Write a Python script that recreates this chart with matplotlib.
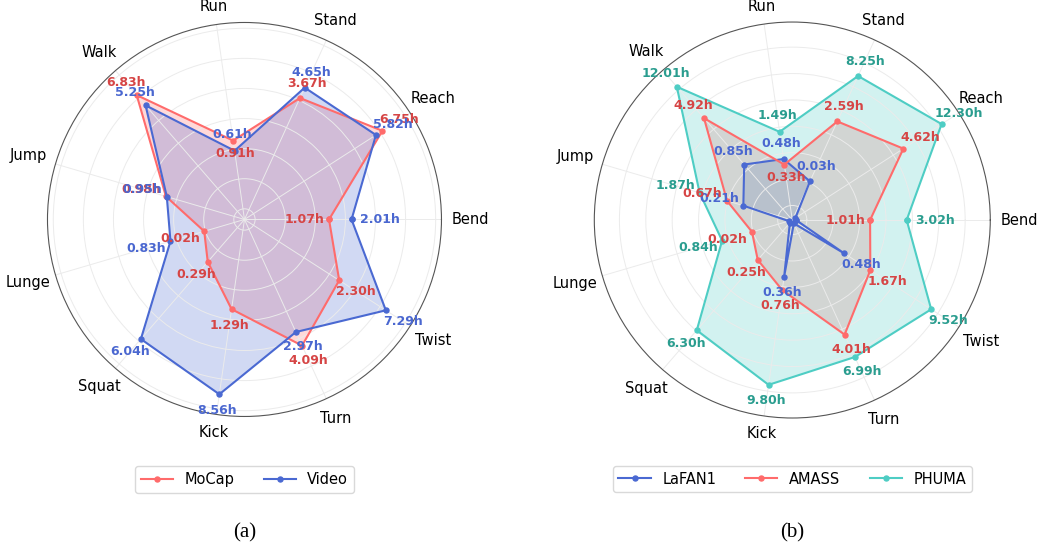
import numpy as np
import matplotlib
matplotlib.use("Agg")
import matplotlib.pyplot as plt
from matplotlib.lines import Line2D

plt.rcParams['font.family'] = 'DejaVu Sans'

# categories, counter-clockwise starting at the right (0 deg)
CATEGORIES = ['Bend', 'Reach', 'Stand', 'Run', 'Walk', 'Jump',
              'Lunge', 'Squat', 'Kick', 'Turn', 'Twist']

# panel (a) hours
MOCAP = [1.07, 6.75, 3.67, 0.91, 6.83, 0.98, 0.02, 0.29, 1.29, 4.09, 2.30]
VIDEO = [2.01, 5.82, 4.65, 0.61, 5.25, 0.95, 0.83, 6.04, 8.56, 2.97, 7.29]

# panel (b) hours
LAFAN1 = [0.00, 0.00, 0.03, 0.48, 0.85, 0.21, 0.00, 0.00, 0.36, 0.00, 0.48]
AMASS = [1.01, 4.62, 2.59, 0.33, 4.92, 0.67, 0.02, 0.25, 0.76, 4.01, 1.67]
PHUMA = [3.02, 12.30, 8.25, 1.49, 12.01, 1.87, 0.84, 6.30, 9.80, 6.99, 9.52]

RED, RED_TXT = '#ff6b6b', '#d64545'
BLUE, BLUE_TXT = '#4a69d2', '#4a67d0'
TEAL, TEAL_TXT = '#4ecdc4', '#2a9d8f'

# labels that sit on the inner side of their point
INWARD = {('MoCap', 'Run'), ('MoCap', 'Bend'), ('AMASS', 'Run'), ('AMASS', 'Bend')}

angles = np.linspace(0, 2 * np.pi, len(CATEGORIES), endpoint=False)


def radar(ax, series, rmax):
    rmin = -0.3 * rmax
    ax.set_ylim(rmin, 1.15 * rmax)
    ax.set_xticks(angles)
    ax.set_xticklabels([])
    ax.set_yticklabels([])
    ax.tick_params(length=0)
    ax.grid(color='#ebebeb', lw=0.7)
    ax.spines['polar'].set_color('#555555')
    ax.spines['polar'].set_linewidth(0.8)

    for name, vals, col, tcol in series:
        vals = np.array(vals)
        r = np.where(vals > 0, np.log1p(vals), rmin + 0.07)
        th = np.append(angles, angles[0])
        rr = np.append(r, r[0])
        ax.fill(th, rr, color=col, alpha=0.25, lw=0)
        ax.plot(th, rr, color=col, lw=1.5, marker='o', ms=3.6)
        for a, v, rv, cat in zip(angles, vals, r, CATEGORIES):
            if v <= 0:
                continue
            c = abs(np.cos(a))
            off = 16 + 12 * c ** 6
            if (name, cat) in INWARD:
                off = -(13 + 12 * c ** 6)
            ax.annotate(f'{v:.2f}h', xy=(a, rv),
                        xytext=(off * np.cos(a), off * np.sin(a)),
                        textcoords='offset pixels', ha='center', va='center',
                        color=tcol, fontsize=9, fontweight='bold')

    top = ax.get_ylim()[1]
    for a, cat in zip(angles, CATEGORIES):
        off = 16 + 13 * abs(np.cos(a))
        ax.annotate(cat, xy=(a, top), xytext=(off * np.cos(a), off * np.sin(a)),
                    textcoords='offset pixels', ha='center', va='center',
                    fontsize=10.5, annotation_clip=False)


fig = plt.figure(figsize=(10.39, 5.48), dpi=100)
ax_a = fig.add_axes([0.0457, 0.2400, 0.3792, 0.7190], projection='polar')
ax_b = fig.add_axes([0.5720, 0.2372, 0.3811, 0.7226], projection='polar')

ser_a = [('MoCap', MOCAP, RED, RED_TXT), ('Video', VIDEO, BLUE, BLUE_TXT)]
ser_b = [('LaFAN1', LAFAN1, BLUE, BLUE_TXT), ('AMASS', AMASS, RED, RED_TXT),
         ('PHUMA', PHUMA, TEAL, TEAL_TXT)]

radar(ax_a, ser_a, np.log1p(max(MOCAP + VIDEO)))
radar(ax_b, ser_b, np.log1p(max(LAFAN1 + AMASS + PHUMA)))

for ax, ser, ncol, cap, y in [(ax_a, ser_a, 2, '(a)', -0.107),
                              (ax_b, ser_b, 3, '(b)', -0.102)]:
    handles = [Line2D([0], [0], color=s[2], lw=1.5, marker='o', ms=3.6) for s in ser]
    leg = ax.legend(handles, [s[0] for s in ser], loc='upper center',
                    bbox_to_anchor=(0.5, y), ncol=ncol, fontsize=10.5,
                    frameon=True, handlelength=2.2, handletextpad=0.8,
                    columnspacing=2.0)
    leg.get_frame().set_edgecolor('#d0d0d0')
    pos = ax.get_position()
    fig.text(pos.x0 + pos.width / 2, 0.028, cap, ha='center', va='center',
             fontsize=15, family='Liberation Serif')

fig.savefig('out.png', dpi=100)
